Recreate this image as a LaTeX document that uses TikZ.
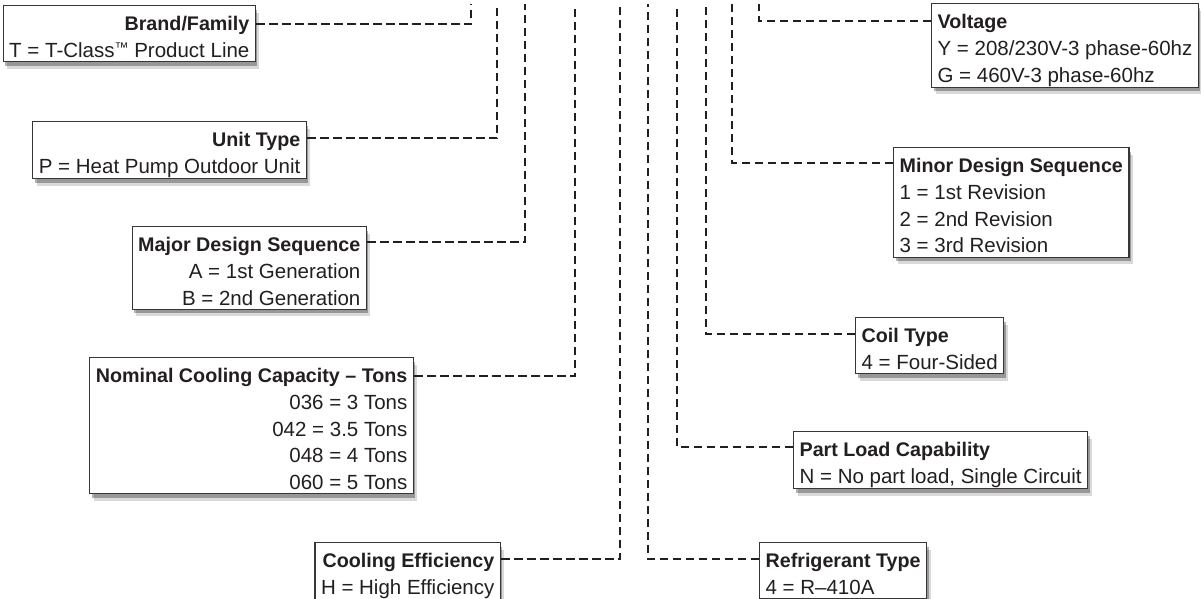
\documentclass[tikz,border=0pt]{standalone}
\usepackage{fontspec}
\setmainfont{Liberation Sans}
\usepackage{xcolor}
\usepackage{tikz}
\usetikzlibrary{calc,positioning,shadows}

\definecolor{ink}{HTML}{231F20}
\newcommand{\hd}[1]{\rule{0pt}{24pt}{\fontsize{19.7pt}{26.7pt}\selectfont\bfseries #1}}
\newcommand{\lst}{\rule[-3.4pt]{0pt}{3.4pt}}
\newcommand{\tmark}{\raisebox{5pt}{\fontsize{14pt}{14pt}\selectfont ™}}

\begin{document}
\begin{tikzpicture}[x=1pt,y=-1pt,
  field/.style={draw=ink!90, line width=1.2pt, fill=white, text=ink,
    inner xsep=6pt, inner ysep=1pt,
    font=\fontsize{20.5pt}{26.7pt}\selectfont,
    drop shadow={shadow xshift=2pt, shadow yshift=-4pt, opacity=.3, fill=black},
    drop shadow={shadow xshift=4pt, shadow yshift=-7pt, opacity=.15, fill=black}},
  leader/.style={draw=ink, line width=2.2pt, dash pattern=on 8.5pt off 4.5pt}]

\clip (0,0) rectangle (1201,598);

% top ends of the leaders (one per model number digit)
\coordinate (d1)  at (471,4);
\coordinate (d2)  at (497,4);
\coordinate (d3)  at (525,4);
\coordinate (d4)  at (575,4);
\coordinate (d5)  at (620,4);
\coordinate (d6)  at (648,4);
\coordinate (d7)  at (677,4);
\coordinate (d8)  at (706,4);
\coordinate (d9)  at (732,4);
\coordinate (d10) at (759,4);

%%%%%%%%%%%%%%%
% left side
\node[field, align=right, anchor=north east] (brand) at (256,5)
  {\hd{Brand/Family}\\T = T-Class\tmark{} Product Line\lst};
\node[field, align=right, anchor=north east] (unit) at (307,121)
  {\hd{Unit Type}\\P = Heat Pump Outdoor Unit\lst};
\node[field, align=right, anchor=north east] (major) at (367,226)
  {\hd{Major Design Sequence}\\A = 1st Generation\\B = 2nd Generation\lst};
\node[field, align=right, anchor=north east] (nominal) at (414,357)
  {\hd{Nominal Cooling Capacity – Tons}\\036 = 3 Tons\\042 = 3.5 Tons\\048 = 4 Tons\\060 = 5 Tons\lst};
\node[field, align=right, anchor=north east] (cooling) at (501,542)
  {\hd{Cooling Efficiency}\\H = High Efficiency\lst};

\draw[leader] ([yshift=-19pt]brand.north east) -| (d1);
\draw[leader] ([yshift=-17pt]unit.north east) -| (d2);
\draw[leader] ([yshift=-16pt]major.north east) -| (d3);
\draw[leader] ([yshift=-19pt]nominal.north east) -| (d4);
\draw[leader] ([yshift=-17pt]cooling.north east) -| (d5);

%%%%%%%%%%%%%%%
% right side
\node[field, align=left, anchor=north west] (voltage) at (931,3)
  {\hd{Voltage}\\Y = 208/230V-3 phase-60hz\\G = 460V-3 phase-60hz\lst};
\node[field, align=left, anchor=north west] (minor) at (893,147)
  {\hd{Minor Design Sequence}\\1 = 1st Revision\\2 = 2nd Revision\\3 = 3rd Revision\lst};
\node[field, align=left, anchor=north west] (coil) at (855,317)
  {\hd{Coil Type}\\4 = Four-Sided\lst};
\node[field, align=left, anchor=north west] (partload) at (793,431)
  {\hd{Part Load Capability}\\N = No part load, Single Circuit\lst};
\node[field, align=left, anchor=north west] (refrigerant) at (759,542)
  {\hd{Refrigerant Type}\\4 = R–410A\lst};

\draw[leader] ([yshift=-18pt]voltage.north west) -| (d10);
\draw[leader] ([yshift=-16pt]minor.north west) -| (d9);
\draw[leader] ([yshift=-17pt]coil.north west) -| (d8);
\draw[leader] ([yshift=-16pt]partload.north west) -| (d7);
\draw[leader] ([yshift=-17pt]refrigerant.north west) -| (d6);

\end{tikzpicture}
\end{document}
